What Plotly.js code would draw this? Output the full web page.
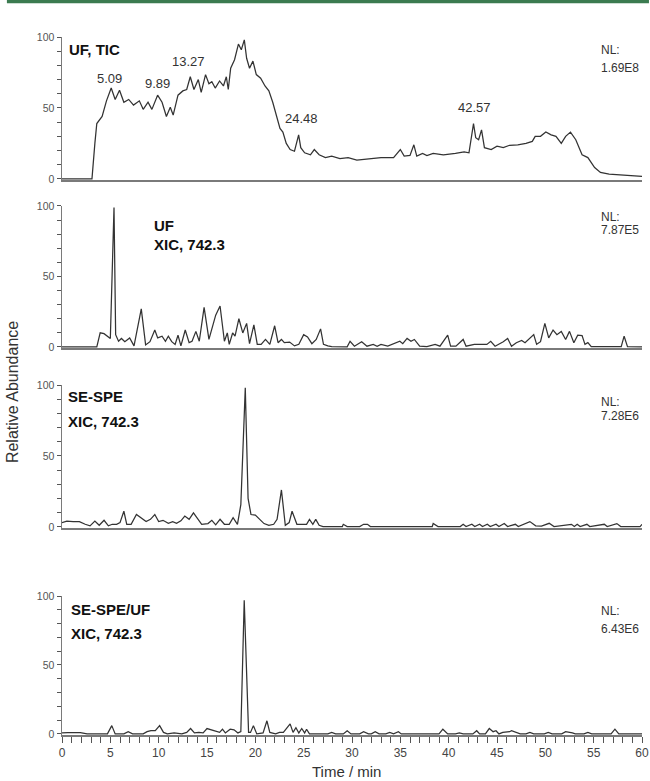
<!DOCTYPE html>
<html>
<head>
<meta charset="utf-8">
<script src="https://cdn.plot.ly/plotly-3.0.1.min.js"></script>
<style>html,body{margin:0;padding:0;background:#fff;}#chart{width:650px;height:781px;}</style>
</head>
<body>
<div id="chart"></div>
<script>
// Panel 1: UF, TIC
const t1 = [0,3.1,3.4,3.6,4.15,4.6,5.09,5.5,5.95,6.4,6.9,7.4,8.0,8.4,8.9,9.3,9.89,10.35,10.8,11.2,11.5,12.0,12.5,12.9,13.27,13.65,14.1,14.4,14.85,15.2,15.5,15.85,16.3,16.7,17.0,17.2,17.45,17.85,18.25,18.55,18.86,19.1,19.4,19.75,20.1,20.55,21.0,21.4,21.8,22.1,22.55,22.85,23.2,23.6,24.05,24.48,24.7,25.1,25.7,26.1,26.6,27.25,27.9,28.75,29.6,30.5,31.75,33,34.3,35.0,35.4,36.0,36.4,36.7,37.3,37.75,38.4,39.45,40.7,41.6,42.1,42.57,42.8,43.1,43.4,43.7,44.4,45.0,45.65,46.3,47.15,48.0,48.65,48.95,49.5,50.05,50.6,51.1,51.65,52.1,52.6,53.15,53.8,54.4,55.1,55.7,56.6,57.85,59.1,60];
const v1 = [0,0,25,39,44,55,64,56,62.5,54,56,52,55,49,54,49,59,54,44,50.5,45,59,62,63,72,63,70,61,73.5,67,68.5,64,69,65.5,72,63,78,84,95,91,98,85,78,83,73.5,71,65.5,62,54,46,35.6,33,25,20.7,19.5,31,22,18.4,17,20.7,17,15,16,14.3,15,13.3,14.3,15,15,20.7,16,16.5,24,16,18,16.5,18,17,18,19,18.4,39,29,27.6,34.5,22,20.7,23,22,23.7,24,25,26.4,30,30,33,31,30,25,30,33,27.6,17,15,8,4.6,3.4,2.8,2.3,1.8];

// Panel 2: UF XIC 742.3
const t2 = [0,3.6,3.95,4.35,5.0,5.38,5.55,5.85,6.15,6.5,7.0,7.45,8.2,8.65,9.1,9.6,9.9,10.35,10.7,11.0,11.35,11.7,12.0,12.3,12.75,13.15,13.45,13.85,14.2,14.7,15.2,15.9,16.35,16.8,17.1,17.3,17.65,17.9,18.3,18.7,19.1,19.4,19.85,20.2,20.6,21.05,21.5,22.0,22.35,22.7,23.0,23.55,24.05,24.5,25.0,25.4,25.85,26.3,26.75,27.05,27.5,27.9,29.5,29.8,30.25,31.0,31.55,32.2,32.6,33.0,33.7,34.1,34.55,34.95,35.25,35.7,36.1,36.45,37.0,37.75,38.6,39.1,39.9,40.2,40.75,41.5,41.8,42.65,43.95,44.35,44.8,45.2,45.65,46.1,46.5,47.0,47.55,47.9,48.45,48.8,49.1,49.5,49.95,50.35,50.8,51.2,51.65,52.1,52.5,52.95,53.35,53.8,54.1,54.4,54.75,57.85,58.15,58.5,60];
const v2 = [0,0,10,9.4,6,99,8.7,4,6,3.7,6.4,0.7,27,1.4,3.7,12,6.4,7.6,4,7.6,3.7,1.8,8.3,0.7,12,3,4,11,4,28,5.3,22.5,29,4,9.9,1.8,9.9,7.6,20,9.9,16.7,2.3,15.6,1.8,1.8,5.3,1.8,15,3,5.3,3,3.4,0.7,1.8,8.7,7.1,2.3,5.3,12.8,1.8,0.7,0.2,0,4,0.5,3.7,0.5,1.8,0.5,1.8,0.5,1.8,2.8,4,2.3,6,4,5.3,0.5,0.2,1.8,0.5,8.3,0.5,0.5,5.3,0.5,1.8,1.8,4,0.5,1.8,3.7,6,0.5,3,4.6,3,6.9,8.7,1.8,3.7,16.7,6.4,12,8.7,11,5.3,11,3,8.3,8,1.8,3,0.2,0.2,7.6,0.2,0];

// Panel 3: SE-SPE XIC 742.3
const t3 = [0,0.5,1.15,1.8,2.4,2.9,3.4,3.85,4.35,4.8,5.2,5.65,6.0,6.4,6.7,7.15,7.7,8.2,8.7,9.15,9.6,10.0,10.45,11.0,11.45,11.85,12.3,12.7,13.15,13.6,14.0,14.45,15.1,15.5,15.9,16.35,16.8,17.3,17.7,18.15,18.5,18.96,19.25,19.55,20.0,20.4,20.9,21.4,21.9,22.25,22.7,23.1,23.5,23.8,24.3,24.8,25.3,25.6,25.95,26.25,26.6,27.0,29.0,29.1,29.5,30.8,31.2,31.6,31.9,38.3,38.4,38.9,41.2,41.5,41.8,42.4,42.7,43.2,43.5,44.0,44.3,44.9,45.2,45.75,46.1,46.9,47.2,48.4,49.0,49.6,50.4,50.9,52.7,53.0,53.3,53.6,54.3,54.6,56.1,56.4,57.0,57.4,57.8,59.8,60];
const v3 = [3,4,3.7,3.7,1.8,0.7,4,1.1,4.6,0.7,1.8,1.8,3,11,1.8,1.8,8.7,6.4,3.7,5.3,8.7,3.7,4.6,2.5,3.7,2.5,4.2,7.6,5.3,9.9,6.4,1.8,2.3,4.6,1.4,5.3,1.8,1.8,6.4,1.8,15.6,98,20,8.7,8.3,5.3,2.3,1.1,1.8,5.3,26,1.1,3,11,1.8,1.8,1.8,5.3,1.8,5.3,1.1,0.2,0.2,1.8,0.2,0.2,1.8,1.8,0.2,0.2,2.3,0.2,0.2,1.8,0.2,1.8,0.2,1.8,0.2,1.8,0.2,1.8,0.2,2.3,0.2,1.8,0.2,3.7,0.7,0.5,2.5,0.2,1.8,0.2,1.8,0.2,1.8,0.2,1.8,0.2,1.8,2.3,0.2,0.2,1.8];

// Panel 4: SE-SPE/UF XIC 742.3
const t4 = [0,0.6,1.9,2.6,4.7,5.15,5.5,6.4,6.85,7.3,8.4,8.8,9.2,9.65,10.1,10.5,10.9,11.6,12.4,12.9,13.3,13.7,14.15,14.6,15.0,15.4,15.85,16.3,16.6,16.9,17.4,17.8,18.2,18.5,18.85,19.3,19.5,19.8,20.15,20.8,21.2,21.5,22.1,22.5,22.9,23.6,23.9,24.2,24.5,24.8,25.1,25.3,25.6,27.5,27.9,28.3,29.1,29.5,29.9,30.8,31.2,31.7,32.0,32.4,32.8,33.5,33.9,34.3,34.8,35.1,39.0,39.4,39.9,40.7,41.1,41.5,42.5,42.9,43.2,43.8,44.2,44.6,44.9,45.2,45.6,46.3,46.5,47.0,47.4,48.0,48.4,48.8,49.9,50.3,50.7,51.7,52.1,52.8,53.1,54.0,54.4,54.8,56.8,57.2,57.6,60];
const v4 = [0.7,1,1,0,0,6,0,0,1.6,0,0,1.6,2.3,2.3,6,1.1,0,0.7,0,1.1,3.9,0.7,1.1,0.7,3.9,3,1.6,1.1,3.4,0.7,3.4,3,0.7,1.6,97,1.1,1.1,6,0,0.7,9.5,1.1,0,1.1,1.1,7.3,1.1,4.5,0.7,3.9,0.7,3.4,0,0,1.1,0,0,2.3,0,0,1.6,0,0,1.6,0,0,1.1,0,1.6,0,0,3.4,0,0,0.7,0,0,2.3,0,0,3.9,1.6,2.3,0,1.1,1.6,2.3,0.7,0,0,1.1,0,0,1.1,0,0,1.6,0.7,0,0,1.1,0,0,3.4,0,0];

const panelTitles = [["UF, TIC"], ["UF", "XIC, 742.3"], ["SE-SPE", "XIC, 742.3"], ["SE-SPE/UF", "XIC, 742.3"]];
const nlValues = ["1.69E8", "7.87E5", "7.28E6", "6.43E6"];
const peakLabels1 = ["5.09", "9.89", "13.27", "18.86", "24.48", "42.57"];
const xTickVals = Array.from({length: 61}, (_, i) => i);
const yTickVals = [0,10,20,30,40,50,60,70,80,90,100];

const FONT = '"Liberation Sans", Arial, sans-serif';
const lineColor = '#333333';
const axisColor = '#7a7a7a';

const series = [[t1, v1], [t2, v2], [t3, v3], [t4, v4]];
const traces = series.map((s, i) => ({
  x: s[0], y: s[1], type: 'scatter', mode: 'lines',
  line: {color: lineColor, width: 1.25},
  xaxis: i === 0 ? 'x' : 'x' + (i + 1),
  yaxis: i === 0 ? 'y' : 'y' + (i + 1),
  hoverinfo: 'skip', showlegend: false
}));

const domains = [[0.7951, 1.0], [0.5544, 0.7579], [0.2966, 0.5014], [0.0, 0.199]];
const layout = {
  width: 650, height: 781,
  margin: {l: 62, r: 8, t: 37, b: 46},
  paper_bgcolor: '#fff', plot_bgcolor: 'rgba(0,0,0,0)',
  showlegend: false,
  font: {family: FONT, color: '#444'},
  annotations: [], shapes: []
};
for (let i = 0; i < 4; i++) {
  const xs = i === 0 ? 'xaxis' : 'xaxis' + (i + 1);
  const ys = i === 0 ? 'yaxis' : 'yaxis' + (i + 1);
  const yid = i === 0 ? 'y' : 'y' + (i + 1);
  const xid = i === 0 ? 'x' : 'x' + (i + 1);
  const isBottom = i === 3;
  layout[xs] = {
    anchor: yid, domain: [0, 1], range: [0, 60],
    showline: true, linecolor: axisColor, linewidth: 2,
    showgrid: false, zeroline: false, fixedrange: true,
    ticks: isBottom ? 'outside' : '', ticklen: 6, tickwidth: 1, tickcolor: '#555',
    tickmode: 'array', tickvals: isBottom ? xTickVals : [],
    ticktext: isBottom ? xTickVals.map(v => v % 5 === 0 ? String(v) : '') : [],
    showticklabels: isBottom, ticklabeloverflow: 'allow',
    tickfont: {family: FONT, size: 12, color: '#444'}
  };
  layout[ys] = {
    anchor: xid, domain: domains[i], range: [-0.8, 100],
    showline: true, linecolor: axisColor, linewidth: 1.5,
    showgrid: false, zeroline: false, fixedrange: true,
    ticks: 'outside', ticklen: 4, tickwidth: 1, tickcolor: '#555',
    tickmode: 'array', tickvals: yTickVals,
    ticktext: yTickVals.map(v => v % 50 === 0 ? String(v) : ''),
    tickfont: {family: FONT, size: 10.5, color: '#555'}
  };
}

function ann(i, x, y, text, opts) {
  const xid = i === 0 ? 'x' : 'x' + (i + 1);
  const yid = i === 0 ? 'y' : 'y' + (i + 1);
  layout.annotations.push(Object.assign({
    xref: xid, yref: yid, x: x, y: y, text: text, showarrow: false,
    xanchor: 'center', yanchor: 'middle',
    font: {family: FONT, size: 13, color: '#333'}
  }, opts || {}));
}
const bold = {family: FONT, size: 15, color: '#111', weight: 'bold'};
// Panel titles
ann(0, 0.5, 91, '<b>' + panelTitles[0][0] + '</b>', {xanchor: 'left', font: bold});
ann(1, 9.3, 86, '<b>' + panelTitles[1][0] + '</b>', {xanchor: 'left', font: bold});
ann(1, 9.3, 73, '<b>' + panelTitles[1][1] + '</b>', {xanchor: 'left', font: bold});
ann(2, 0.4, 92, '<b>' + panelTitles[2][0] + '</b>', {xanchor: 'left', font: bold});
ann(2, 0.4, 74, '<b>' + panelTitles[2][1] + '</b>', {xanchor: 'left', font: bold});
ann(3, 0.7, 90, '<b>' + panelTitles[3][0] + '</b>', {xanchor: 'left', font: bold});
ann(3, 0.7, 73, '<b>' + panelTitles[3][1] + '</b>', {xanchor: 'left', font: bold});
// NL values
const nlY = [[91, 78], [92, 83], [88, 78], [89, 76]];
for (let i = 0; i < 4; i++) {
  ann(i, 55.6, nlY[i][0], 'NL:', {xanchor: 'left', font: {family: FONT, size: 12, color: '#333'}});
  ann(i, 55.6, nlY[i][1], nlValues[i], {xanchor: 'left', font: {family: FONT, size: 12, color: '#333'}});
}
// Peak labels panel 1
const pk1x = [4.9, 9.9, 13.1, 19.1, 24.8, 42.7];
const pk1y = [71, 67, 83, 111, 42.5, 50.6];
peakLabels1.forEach((p, k) => ann(0, pk1x[k], pk1y[k], p, {font: {family: FONT, size: 13, color: '#333'}}));
ann(1, 5.8, 105, '5.38', {font: {family: FONT, size: 15, color: '#222'}});
ann(2, 18.7, 106, '18.96', {font: {family: FONT, size: 15, color: '#222'}});
ann(3, 18.9, 106, '18.85', {font: {family: FONT, size: 15, color: '#222'}});

// Axis titles
layout.annotations.push({xref: 'paper', yref: 'paper', x: -0.086, y: 0.4914, text: 'Relative Abundance',
  textangle: -90, showarrow: false, xanchor: 'center', yanchor: 'middle',
  font: {family: FONT, size: 16, color: '#333'}});
layout.annotations.push({xref: 'paper', yref: 'paper', x: 0.49, y: -0.053, text: 'Time / min',
  showarrow: false, xanchor: 'center', yanchor: 'middle',
  font: {family: FONT, size: 15, color: '#333'}});

// Green rule at the top
layout.shapes.push({type: 'rect', xref: 'paper', yref: 'paper', x0: -0.095, x1: 1.012, y0: 1.0484, y1: 1.0535,
  fillcolor: '#3b7b50', line: {width: 0}});

Plotly.newPlot('chart', traces, layout, {displayModeBar: false, staticPlot: true});
</script>
</body>
</html>
